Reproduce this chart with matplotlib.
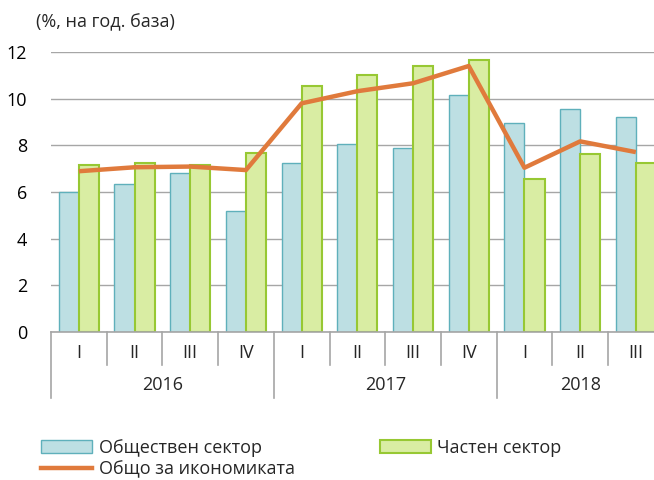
import numpy as np
import matplotlib
matplotlib.use("Agg")
import matplotlib.pyplot as plt
from matplotlib.patches import Patch
from matplotlib.lines import Line2D

plt.rcParams['font.family'] = ['Open Sans', 'DejaVu Sans']

quarters = ['I', 'II', 'III', 'IV', 'I', 'II', 'III', 'IV', 'I', 'II', 'III']
years = ['2016', '2017', '2018']
year_sizes = [4, 4, 3]

public = [6.0, 6.33, 6.8, 5.2, 7.26, 8.07, 7.9, 10.14, 8.94, 9.57, 9.23]
private = [7.17, 7.23, 7.17, 7.67, 10.53, 11.03, 11.41, 11.66, 6.56, 7.62, 7.26]
total = [6.89, 7.06, 7.09, 6.94, 9.8, 10.32, 10.66, 11.4, 7.04, 8.17, 7.71]

blue_fill, blue_edge = '#BDDFE3', '#5FB0BB'
green_fill, green_edge = '#D9EDA3', '#97C833'
orange = '#E07A3C'
grid_c = '#A6A6A6'
txt_c = '#262626'
fs = 13

fig = plt.figure(figsize=(6.54, 4.8), dpi=100)
ax = fig.add_axes([51 / 654, 1 - 332 / 480, 1 - 51 / 654, 280 / 480])

x = np.arange(len(quarters))
w = 0.36
ax.bar(x - w / 2, public, w, color=blue_fill, edgecolor=blue_edge, linewidth=1.0, zorder=2)
ax.bar(x + w / 2, private, w, color=green_fill, edgecolor=green_edge, linewidth=1.5, zorder=2)
ax.plot(x, total, color=orange, linewidth=3.2, zorder=3, solid_capstyle='butt')

ax.set_ylim(0, 12)
ax.set_yticks(range(0, 13, 2))
ax.set_xlim(-0.5, -0.5 + (654 - 51) / 55.7)
ax.yaxis.grid(True, color=grid_c, linewidth=1.0, zorder=0)
ax.set_axisbelow(True)
ax.set_xticks([])
ax.tick_params(axis='y', length=0, pad=17, labelsize=fs, labelcolor='black')
for s in ['top', 'right', 'left']:
    ax.spines[s].set_visible(False)
ax.spines['bottom'].set_color(grid_c)
ax.spines['bottom'].set_linewidth(1.2)

tr = ax.get_xaxis_transform()
# quarter labels and separators
for i, q in enumerate(quarters):
    ax.text(i, -0.075, q, transform=tr, ha='center', va='center', fontsize=fs, color=txt_c)
year_edges = np.cumsum([0] + year_sizes) - 0.5
for b in np.arange(len(quarters) + 1) - 0.5:
    bottom = -0.236 if np.isclose(year_edges, b).any() else -0.118
    ax.plot([b, b], [0, bottom], transform=tr, color=grid_c, linewidth=1.2, clip_on=False)
for k, yr in enumerate(years):
    c = (year_edges[k] + year_edges[k + 1]) / 2
    ax.text(c, -0.189, yr, transform=tr, ha='center', va='center', fontsize=fs, color=txt_c)

fig.text(36 / 654, 1 - 22 / 480, '(%, на год. база)', ha='left', va='center', fontsize=fs, color=txt_c)

handles = [Patch(facecolor=blue_fill, edgecolor=blue_edge, linewidth=1.0),
           Line2D([], [], color=orange, linewidth=3.2),
           Patch(facecolor=green_fill, edgecolor=green_edge, linewidth=1.5)]
labels = ['Обществен сектор', 'Общо за икономиката', 'Частен сектор']
fig.legend(handles, labels, loc='upper left', bbox_to_anchor=(32 / 654, 1 - 430 / 480),
           ncol=2, frameon=False, fontsize=fs, handlelength=2.85, handleheight=0.7,
           handletextpad=0.35, columnspacing=4.7, labelspacing=0.2, borderpad=0,
           labelcolor=txt_c)

fig.savefig('out.png', dpi=100)
